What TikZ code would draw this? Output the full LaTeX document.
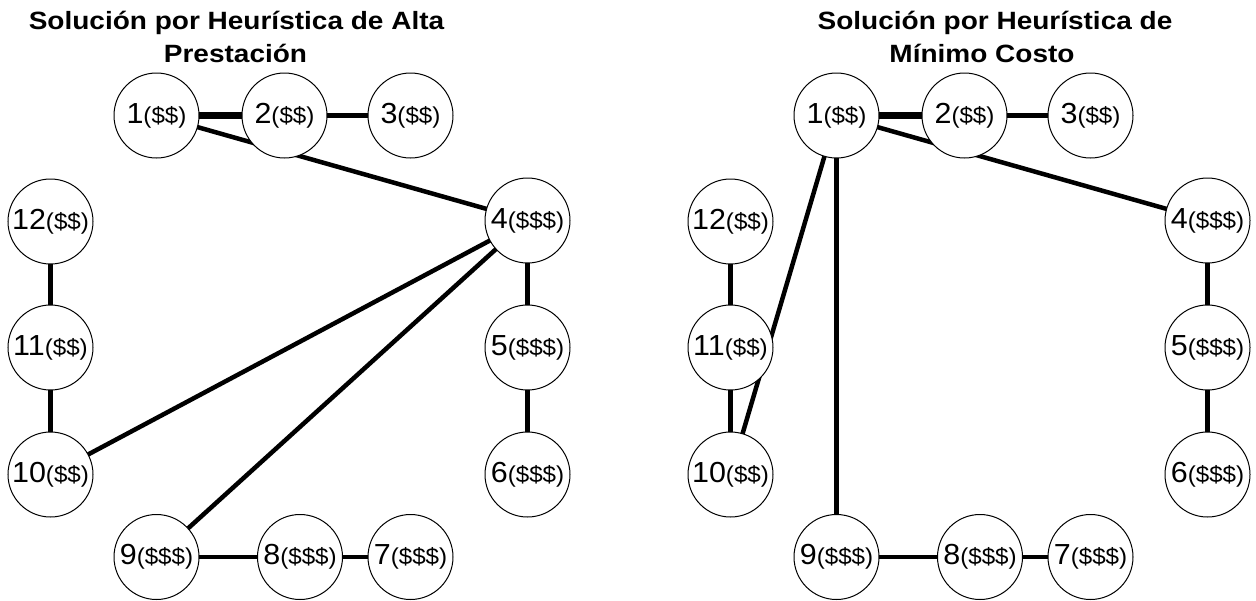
\documentclass[tikz,border=0pt]{standalone}
\usepackage{fontspec}
\setmainfont{Liberation Sans}
\usetikzlibrary{backgrounds}
\tikzset{
  vtx/.style={circle, draw=black, line width=1pt, fill=white, minimum size=85pt, inner sep=0pt},
  edge/.style={line width=4.5pt},
  thickedge/.style={line width=6.5pt},
  ttl/.style={font=\bfseries\fontsize{25}{29}\selectfont, inner sep=0pt, anchor=base}
}
\newcommand{\vlbl}[2]{\scalebox{1.05}[1]{\fontsize{29}{32}\selectfont #1\fontsize{23}{32}\selectfont(#2)}}
\newcommand{\ttltext}[1]{\scalebox{1.12}[1]{#1}}
\begin{document}
\begin{tikzpicture}[x=1pt,y=-1pt]
\useasboundingbox (0,0) rectangle (1256,600);
% titles
\node[ttl] (t1a) at (236.5,29) {\ttltext{Solución por Heurística de Alta}};
\node[ttl] (t1b) at (235.5,62) {\ttltext{Prestación}};
\node[ttl] (t2a) at (995,29) {\ttltext{Solución por Heurística de}};
\node[ttl] (t2b) at (982,62) {\ttltext{Mínimo Costo}};
% left graph
\node[vtx] (a1) at (156.5,115.5) {\vlbl{1}{\$\$}};
\node[vtx] (a2) at (284.5,115.5) {\vlbl{2}{\$\$}};
\node[vtx] (a3) at (410.5,115.5) {\vlbl{3}{\$\$}};
\node[vtx] (a4) at (527.5,220.5) {\vlbl{4}{\$\$\$}};
\node[vtx] (a5) at (527.5,347.5) {\vlbl{5}{\$\$\$}};
\node[vtx] (a6) at (527.5,474.5) {\vlbl{6}{\$\$\$}};
\node[vtx] (a7) at (410.5,557) {\vlbl{7}{\$\$\$}};
\node[vtx] (a8) at (300,557) {\vlbl{8}{\$\$\$}};
\node[vtx] (a9) at (156.5,557) {\vlbl{9}{\$\$\$}};
\node[vtx] (a10) at (50.5,474.5) {\vlbl{10}{\$\$}};
\node[vtx] (a11) at (50.5,347.5) {\vlbl{11}{\$\$}};
\node[vtx] (a12) at (50.5,221.5) {\vlbl{12}{\$\$}};
% right graph
\node[vtx] (b1) at (836.5,115.5) {\vlbl{1}{\$\$}};
\node[vtx] (b2) at (964.5,115.5) {\vlbl{2}{\$\$}};
\node[vtx] (b3) at (1090.5,115.5) {\vlbl{3}{\$\$}};
\node[vtx] (b4) at (1207.5,220.5) {\vlbl{4}{\$\$\$}};
\node[vtx] (b5) at (1207.5,347.5) {\vlbl{5}{\$\$\$}};
\node[vtx] (b6) at (1207.5,474.5) {\vlbl{6}{\$\$\$}};
\node[vtx] (b7) at (1090.5,557) {\vlbl{7}{\$\$\$}};
\node[vtx] (b8) at (980,557) {\vlbl{8}{\$\$\$}};
\node[vtx] (b9) at (836.5,557) {\vlbl{9}{\$\$\$}};
\node[vtx] (b10) at (730.5,474.5) {\vlbl{10}{\$\$}};
\node[vtx] (b11) at (730.5,347.5) {\vlbl{11}{\$\$}};
\node[vtx] (b12) at (730.5,221.5) {\vlbl{12}{\$\$}};
\begin{pgfonlayer}{background}
\fill[white] (0,0) rectangle (1256,600);
% left edges
\draw[thickedge] (a1.center) -- (a2.center);
\draw[edge] (a2.center) -- (a3.center);
\draw[edge] (a1.center) -- (a4.center);
\draw[edge] (a4.center) -- (a5.center);
\draw[edge] (a5.center) -- (a6.center);
\draw[edge] (a4.center) -- (a10.center);
\draw[edge] (a4.center) -- (a9.center);
\draw[edge] (a9.center) -- (a8.center);
\draw[edge] (a8.center) -- (a7.center);
\draw[edge] (a12.center) -- (a11.center);
\draw[edge] (a11.center) -- (a10.center);
% right edges
\draw[thickedge] (b1.center) -- (b2.center);
\draw[edge] (b2.center) -- (b3.center);
\draw[edge] (b1.center) -- (b4.center);
\draw[edge] (b4.center) -- (b5.center);
\draw[edge] (b5.center) -- (b6.center);
\draw[edge] (b1.center) -- (b10.center);
\draw[edge] (b1.center) -- (b9.center);
\draw[edge] (b9.center) -- (b8.center);
\draw[edge] (b8.center) -- (b7.center);
\draw[edge] (b12.center) -- (b11.center);
\draw[edge] (b11.center) -- (b10.center);
\end{pgfonlayer}
\end{tikzpicture}
\end{document}
